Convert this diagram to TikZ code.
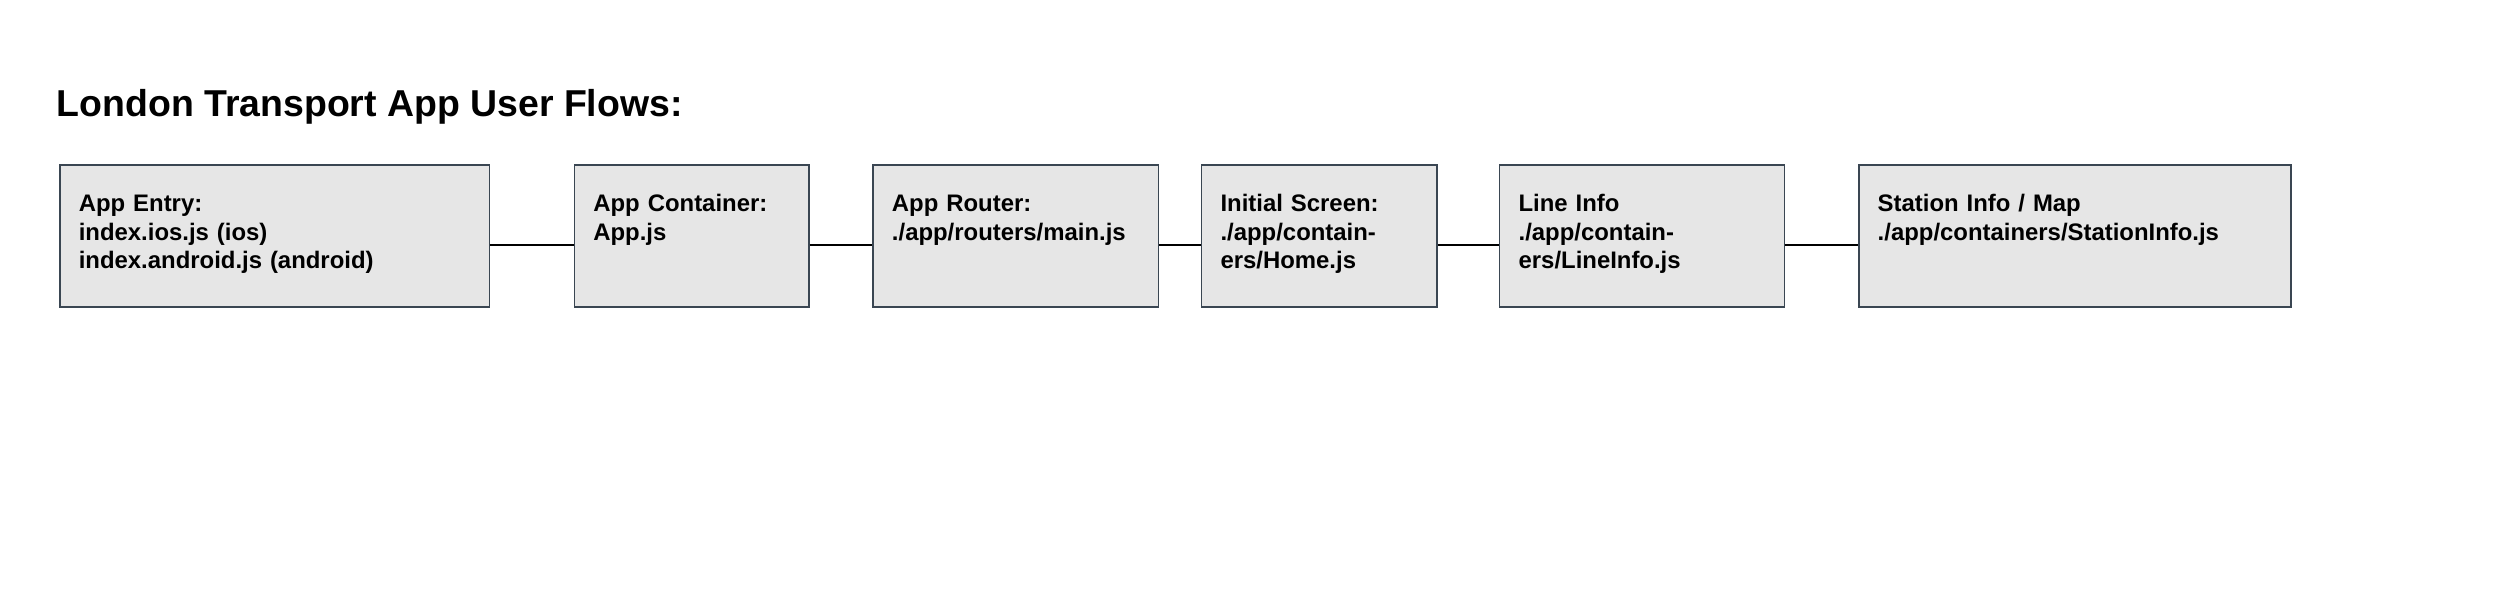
\documentclass[tikz,border=0pt]{standalone}
\usepackage{fontspec}
\setmainfont{Liberation Sans}
\usetikzlibrary{positioning}
\definecolor{boxfill}{HTML}{E6E6E6}
\definecolor{boxline}{HTML}{3A4652}
\tikzset{
flowbox/.style={draw=boxline, fill=boxfill, line width=0.45pt, anchor=north west, align=left,
    inner xsep=1.9mm, inner ysep=0pt, text height=4.7mm, text depth=9.5mm,
    font=\bfseries\fontsize{6.8}{8.1}\selectfont},
flowlink/.style={draw=black, line width=0.45pt},
}

\begin{document}
\begin{tikzpicture}
    \useasboundingbox (0,0) rectangle (250mm,-60.1mm);
    \node[anchor=base west, inner sep=0pt, font=\bfseries\fontsize{10.65}{12}\selectfont] (title) at (5.6mm,-11.7mm) {London Transport App User Flows:};
    \node[flowbox, text width=39.15mm] (entry) at (5.9mm,-16.4mm) {App Entry:\\index.ios.js (ios)\\index.android.js (android)};
    \node[flowbox, text width=19.65mm, right=8.35mm of entry] (container) {App Container:\\App.js};
    \node[flowbox, text width=24.75mm, right=6.25mm of container] (router) {App Router:\\./app/routers/main.js};
    \node[flowbox, text width=19.75mm, right=4.15mm of router] (home) {Initial Screen:\\./app/contain-\\ers/Home.js};
    \node[flowbox, text width=24.7mm, right=6.1mm of home] (lineinfo) {Line Info\\./app/contain-\\ers/LineInfo.js};
    \node[flowbox, text width=39.45mm, right=7.25mm of lineinfo] (station) {Station Info / Map\\./app/containers/StationInfo.js};
    \draw[flowlink]
        ([yshift=-0.9mm]entry.east) -- ([yshift=-0.9mm]container.west)
        ([yshift=-0.9mm]container.east) -- ([yshift=-0.9mm]router.west)
        ([yshift=-0.9mm]router.east) -- ([yshift=-0.9mm]home.west)
        ([yshift=-0.9mm]home.east) -- ([yshift=-0.9mm]lineinfo.west)
        ([yshift=-0.9mm]lineinfo.east) -- ([yshift=-0.9mm]station.west)
    ;
\end{tikzpicture}
\end{document}
